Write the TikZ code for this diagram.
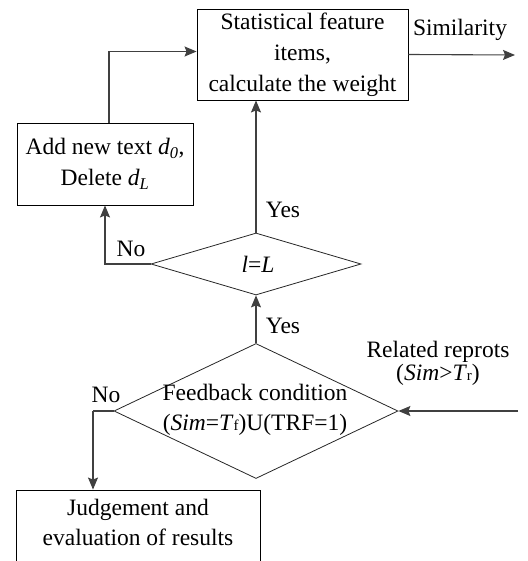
\documentclass[tikz,border=0pt]{standalone}
\usepackage{fontspec}
\setmainfont{Liberation Serif}
\usetikzlibrary{shapes.geometric,arrows.meta}

% small upright index set on the baseline, as in T with a small f
\newcommand{\lowidx}[1]{{\fontsize{15}{15}\selectfont #1}}

\begin{document}
\begin{tikzpicture}[x=1pt,y=-1pt,
  every node/.style={font=\fontsize{23.5}{31}\selectfont},
  procbox/.style={draw=black,line width=0.9pt,inner sep=0pt,align=center},
  decision/.style={draw=black!85,line width=0.8pt,diamond,inner sep=0pt},
  lbl/.style={inner sep=0pt,align=center},
  arr/.style={draw=black!75,line width=1.1pt,-{Stealth[length=12pt,width=10pt,inset=2pt]}},
  link/.style={draw=black!75,line width=1.1pt}
]
\useasboundingbox (0,0) rectangle (527,561);
\clip (0,0) rectangle (527,561);

% process boxes
\node[procbox,minimum width=211,minimum height=91] (tb) at (302.5,54.5)
  {Statistical feature\\items,\\calculate the weight};
\node[procbox,minimum width=176,minimum height=82] (lb) at (105,164)
  {Add new text \textit{d\textsubscript{0}},\\Delete \textit{d\textsubscript{L}}};
\node[procbox,minimum width=244,minimum height=90] (jb) at (138,535) {};
\node[lbl,font=\fontsize{23.5}{30}\selectfont] (jbtext) at (138,522)
  {Judgement and\\evaluation of results};

% decisions
\node[decision,minimum width=210,minimum height=62] (dl) at (256,264) {};
\node[lbl] (dltext) at (258,264) {\textit{l}=\textit{L}};
\node[decision,minimum width=284,minimum height=135] (fb) at (256,411) {};
\node[lbl,font=\fontsize{23.5}{30}\selectfont] (fbtext) at (255,410)
  {Feedback condition\\(\textit{Sim}=\textit{T}\lowidx{f})U(TRF=1)};

% free ends
\coordinate (sout) at (515,55);
\coordinate (rin) at (518,411);
\coordinate (nobend) at (93,411);

% labels
\node[lbl] (simlbl) at (460,30) {Similarity};
\node[lbl] (yes1) at (283,210) {Yes};
\node[lbl] (no1) at (131,249) {No};
\node[lbl] (yes2) at (283,326) {Yes};
\node[lbl] (no2) at (106,395) {No};
\node[lbl,font=\fontsize{23.5}{23}\selectfont] (rel) at (438,363)
  {Related reprots\\(\textit{Sim}>\textit{T}\lowidx{r})};

% connectors
\draw[arr] (tb.east) -- (sout);
\draw[arr] ([xshift=4pt]lb.north) |- ([yshift=3pt]tb.west);
\draw[arr] (dl.north) -- (dl.north |- tb.south);
\draw[arr] (dl.west) -| (lb.south);
\draw[arr] (fb.north) -- (dl.south);
\draw[arr] (rin) -- (fb.east);
\draw[link] (fb.west) -- (nobend);
\draw[arr] (nobend) -- (nobend |- jb.north);
\end{tikzpicture}
\end{document}
